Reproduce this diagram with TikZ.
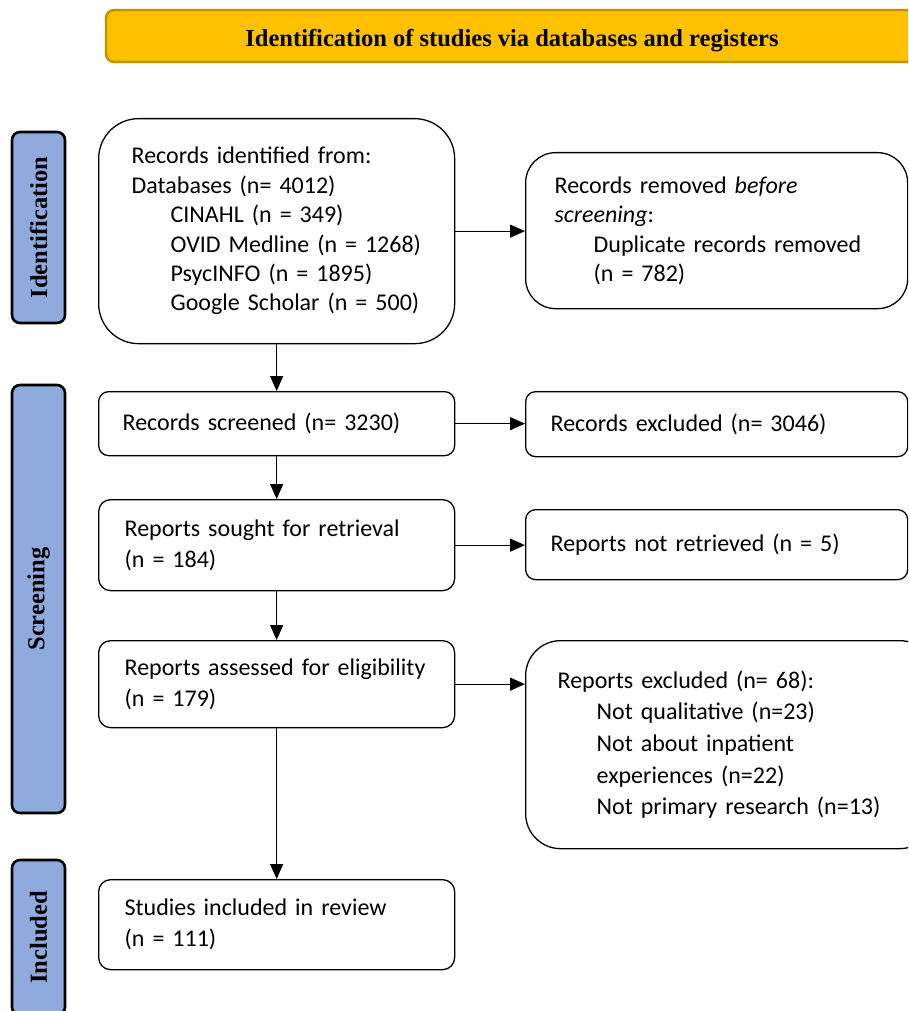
\documentclass[tikz,border=0pt]{standalone}
\usepackage{fontspec}
\setmainfont{Carlito}
\newfontfamily\hdrfont{Liberation Serif}
\usetikzlibrary{arrows.meta}
\definecolor{hdrfill}{HTML}{FFC000}
\definecolor{hdrdraw}{HTML}{BF9000}
\definecolor{sidefill}{HTML}{8FAADC}
\begin{document}
\begin{tikzpicture}[x=1pt,y=-1pt,
  box/.style={draw=black,line width=1.3pt,fill=white,anchor=north west,align=left,inner ysep=0pt,
    font=\fontsize{24}{29.4}\selectfont},
  sidebox/.style={draw=black,line width=2.6pt,fill=sidefill,rounded corners=8pt,rotate=90,
    minimum height=53pt,inner sep=0pt,font=\hdrfont\bfseries\fontsize{24.5}{28}\selectfont},
  arr/.style={line width=1.3pt,-{Triangle[length=15pt,width=13pt]}}]
\useasboundingbox (0,0) rectangle (908,1011);
\clip (0,0) rectangle (908,1011);
% header
\node[draw=hdrdraw,line width=2.4pt,fill=hdrfill,rounded corners=8pt,minimum width=812pt,minimum height=52pt,
  inner sep=0pt,font=\hdrfont\bfseries\fontsize{24.5}{28}\selectfont] (hdr) at (512,36)
  {\raisebox{-5pt}[\height][\depth]{Identification of studies via databases and registers}};
% side labels
\node[sidebox,minimum width=191pt] (sid) at (38.5,227.5) {Identification};
\node[sidebox,minimum width=428pt] (sscr) at (38.5,599) {Screening};
\node[sidebox,minimum width=155pt] (sinc) at (38.5,937.5) {Included};
% boxes
\node[box,rounded corners=40pt,minimum width=356pt,minimum height=225pt,inner xsep=33pt,text width=290pt] (ident) at (98,118)
 {Records identified from:\\Databases (n= 4012)\\\hspace*{39pt}CINAHL (n = 349)\\\hspace*{39pt}OVID Medline (n = 1268)\\\hspace*{39pt}PsycINFO (n = 1895)\\\hspace*{39pt}Google Scholar (n = 500)};
\node[box,rounded corners=30pt,minimum width=382pt,minimum height=156pt,inner xsep=29pt,text width=324pt] (removed) at (525,152)
 {Records removed \textit{before}\\\textit{screening}:\\\hspace*{39pt}Duplicate records removed\\\hspace*{39pt}(n = 782)};
\node[box,rounded corners=10pt,minimum width=356pt,minimum height=64pt,inner xsep=24pt,text width=308pt] (screened) at (98,391)
 {Records screened (n= 3230)};
\node[box,rounded corners=10pt,minimum width=382pt,minimum height=65pt,inner xsep=25pt,text width=332pt] (excl) at (525,391)
 {Records excluded (n= 3046)};
\node[box,rounded corners=12pt,minimum width=356pt,minimum height=91pt,inner xsep=26pt,text width=304pt,
  font=\fontsize{24}{31}\selectfont] (sought) at (98,499)
 {Reports sought for retrieval\\(n = 184)};
\node[box,rounded corners=10pt,minimum width=382pt,minimum height=70pt,inner xsep=25pt,text width=332pt] (notret) at (525,509)
 {Reports not retrieved (n = 5)};
\node[box,rounded corners=12pt,minimum width=356pt,minimum height=87pt,inner xsep=26pt,text width=304pt,
  font=\fontsize{24}{31}\selectfont] (assessed) at (98,640)
 {Reports assessed for eligibility\\(n = 179)};
\node[box,rounded corners=35pt,minimum width=382pt,minimum height=208pt,inner xsep=32pt,text width=345pt,
  font=\fontsize{24}{31.7}\selectfont] (repexcl) at (525,640)
 {Reports excluded (n= 68):\\\hspace*{39pt}Not qualitative (n=23)\\\hspace*{39pt}Not about inpatient\\\hspace*{39pt}experiences (n=22)\\\hspace*{39pt}Not primary research (n=13)};
\node[box,rounded corners=12pt,minimum width=356pt,minimum height=90pt,inner xsep=26pt,text width=304pt,
  font=\fontsize{24}{31}\selectfont] (incl) at (98,879)
 {Studies included in review\\(n = 111)};
% arrows
\draw[arr] (ident.south) -- (screened.north);
\draw[arr] (screened.south) -- (sought.north);
\draw[arr] (sought.south) -- (assessed.north);
\draw[arr] (assessed.south) -- (incl.north);
\draw[arr] (ident.east) -- (ident.east -| removed.west);
\draw[arr] (screened.east) -- (screened.east -| excl.west);
\draw[arr] (sought.east) -- (sought.east -| notret.west);
\draw[arr] (assessed.east) -- (assessed.east -| repexcl.west);
\end{tikzpicture}
\end{document}
